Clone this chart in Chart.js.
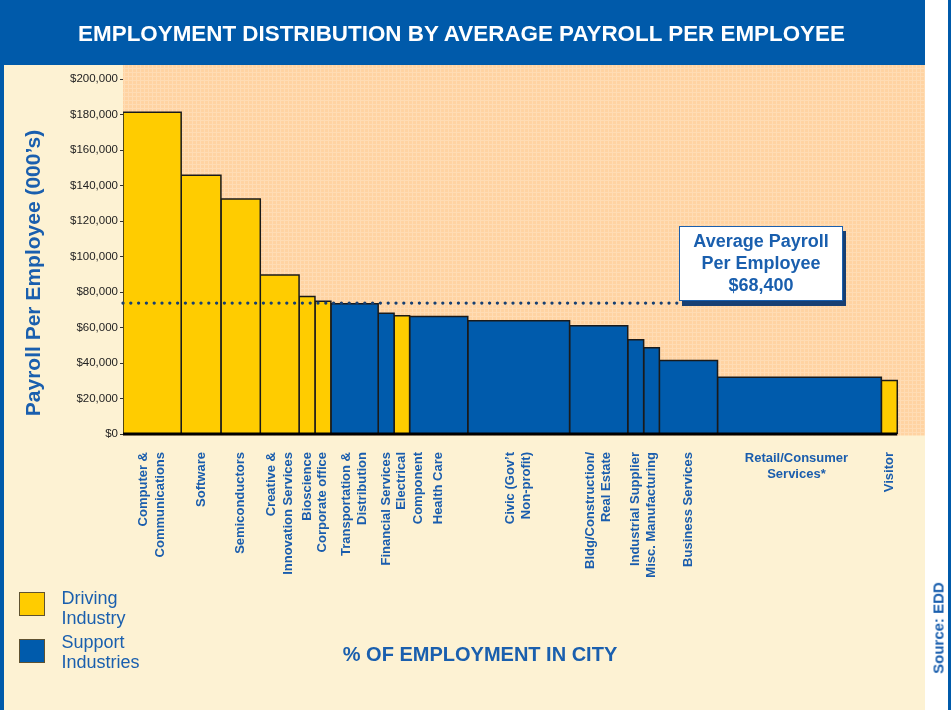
<!DOCTYPE html>
<html>
<head>
<meta charset="utf-8">
<script src="https://cdn.jsdelivr.net/npm/chart.js@4/dist/chart.umd.min.js"></script>
<style>
  html, body { margin:0; padding:0; width:951px; height:710px; overflow:hidden; background:#ffffff; font-family:"Liberation Sans", Arial, sans-serif; }
  .abs { position:absolute; }
  #header { left:0; top:0; width:925px; height:65px; background:#005AAA; }
  #panel { left:4px; top:65px; width:921px; height:645px; background:#FDF2D3; }
  #leftline { left:0; top:0; width:4px; height:710px; background:#005AAA; }
  #rightline { left:948px; top:0; width:3px; height:710px; background:#005AAA; }
  #wrap { left:0; top:0; width:951px; height:710px; }
  #title { left:0; top:21px; width:923px; text-align:center; color:#fff; font-weight:bold; font-size:22.4px; line-height:26px; white-space:nowrap; }
  #ytitle { left:32.7px; top:272.5px; transform:translate(-50%,-50%) rotate(-90deg); color:#1A5FAE; font-weight:bold; font-size:21px; line-height:24px; white-space:nowrap; }
  #xtitle { left:480px; top:642px; transform:translateX(-50%); color:#1A5FAE; font-weight:bold; font-size:20px; line-height:24px; white-space:nowrap; }
  #source { left:937.5px; top:628px; transform:translate(-50%,-50%) rotate(-90deg); color:#1A5FAE; font-weight:bold; font-size:15px; line-height:17px; white-space:nowrap; }
  .lgbox { left:19px; width:26px; height:24px; box-sizing:border-box; border:1.5px solid #5f5230; }
  .lgtext { left:61.5px; color:#1A5FAE; font-size:18px; line-height:20px; white-space:nowrap; }
  #note { left:679px; top:226px; width:164px; height:75px; box-sizing:border-box; border:1px solid #1A5FAE; background:#fff; box-shadow:3px 5px 0 #173F73; text-align:center; color:#1A5FAE; font-weight:bold; font-size:18px; line-height:21.7px; padding-top:4.2px; }
</style>
</head>
<body>
<div id="header" class="abs"></div>
<div id="panel" class="abs"></div>
<div id="leftline" class="abs"></div>
<div id="rightline" class="abs"></div>
<div id="wrap" class="abs"><canvas id="c" width="951" height="710"></canvas></div>
<div id="title" class="abs">EMPLOYMENT DISTRIBUTION BY AVERAGE PAYROLL PER EMPLOYEE</div>
<div id="ytitle" class="abs">Payroll Per Employee (000’s)</div>
<div id="xtitle" class="abs">% OF EMPLOYMENT IN CITY</div>
<div id="source" class="abs">Source: EDD</div>
<div class="abs lgbox" style="top:592px;background:#FFCC00"></div>
<div class="abs lgbox" style="top:639px;background:#005BAC"></div>
<div class="abs lgtext" style="top:588px">Driving<br>Industry</div>
<div class="abs lgtext" style="top:631.5px">Support<br>Industries</div>
<div id="note" class="abs">Average Payroll<br>Per Employee<br>$68,400</div>
<script>
// ---- data ----
const categories = [
  ["Computer &", "Communications"],
  ["Software"],
  ["Semiconductors"],
  ["Creative &", "Innovation Services"],
  ["Bioscience"],
  ["Corporate office"],
  ["Transportation &", "Distribution"],
  ["Financial Services"],
  ["Electrical", "Component"],
  ["Health Care"],
  ["Civic (Gov’t", "Non-profit)"],
  ["Bldg/Construction/", "Real Estate"],
  ["Industrial Supplier"],
  ["Misc. Manufacturing"],
  ["Business Services"],
  ["Retail/Consumer", "Services*"],
  ["Visitor"]
];
// share of employment in city (%) -> bar widths
const employmentShare = [3.0, 2.05, 2.03, 2.0, 0.82, 0.82, 2.44, 0.82, 0.80, 3.0, 5.25, 3.0, 0.82, 0.81, 3.0, 8.45, 0.82];
// average payroll per employee ($) -> bar heights
const payrollPerEmployee = [181400, 145800, 132400, 89600, 77500, 74800, 73400, 68000, 66700, 66200, 63800, 61000, 53100, 48600, 41400, 32000, 30200];
const industryGroup = ["Driving","Driving","Driving","Driving","Driving","Driving","Support","Support","Driving","Support","Support","Support","Support","Support","Support","Support","Driving"];
const yTickValues = [0, 20000, 40000, 60000, 80000, 100000, 120000, 140000, 160000, 180000, 200000];
const averageLineValue = 73800;
const averageLineEndShare = 28.67;
const xAxisMax = 41.36;
const yAxisMax = 208000;

// ---- build datasets ----
const groupColor = { Driving: "#FFCC00", Support: "#005BAC" };
const starts = [];
let acc = 0;
for (let i = 0; i < employmentShare.length; i++) { starts.push(acc); acc += employmentShare[i]; }
const totalShare = acc;

const datasets = [];
for (let i = 0; i < categories.length; i++) {
  const x0 = starts[i], x1 = starts[i] + employmentShare[i], v = payrollPerEmployee[i];
  datasets.push({
    label: categories[i].join(" "),
    data: [{x:x0,y:0},{x:x0,y:v},{x:x1,y:v},{x:x1,y:0}],
    borderColor: "#1a1a1a",
    borderWidth: 1.5,
    backgroundColor: groupColor[industryGroup[i]],
    fill: "origin",
    pointRadius: 0,
    tension: 0,
    order: 2
  });
}
datasets.push({
  label: "average",
  data: [{x:0,y:averageLineValue},{x:averageLineEndShare,y:averageLineValue}],
  borderColor: "#163F72",
  borderWidth: 3.3,
  borderDash: [0, 7.8],
  borderCapStyle: "round",
  fill: false, pointRadius: 0, order: 1, clip: false
});
datasets.push({
  label: "axis",
  data: [{x:0,y:0},{x:totalShare,y:0}],
  borderColor: "#000",
  borderWidth: 3,
  fill: false, pointRadius: 0, order: 0, clip: false
});

// plot background pattern
function makePattern(ctx) {
  const p = document.createElement("canvas");
  p.width = 4; p.height = 4;
  const pc = p.getContext("2d");
  pc.fillStyle = "#FFD3A2"; pc.fillRect(0,0,4,4);
  pc.fillStyle = "#FFDCB4"; pc.fillRect(0,0,1,4); pc.fillRect(0,0,4,1);
  return ctx.createPattern(p, "repeat");
}

const bgPlugin = {
  id: "plotbg",
  beforeDatasetsDraw(chart) {
    const {ctx, chartArea:a} = chart;
    ctx.save();
    ctx.fillStyle = makePattern(ctx);
    ctx.fillRect(a.left, a.top, a.right - a.left, a.bottom - a.top + 1.5);
    ctx.restore();
  }
};

const labelPlugin = {
  id: "catlabels",
  afterDraw(chart) {
    const ctx = chart.ctx, xs = chart.scales.x, a = chart.chartArea;
    ctx.save();
    ctx.fillStyle = "#1A5DAD";
    ctx.font = "bold 13px 'Liberation Sans', Arial, sans-serif";
    const topY = a.bottom + 18;
    const lineGap = 16.5;
    for (let i = 0; i < categories.length; i++) {
      const p0 = xs.getPixelForValue(starts[i]);
      const p1 = xs.getPixelForValue(starts[i] + employmentShare[i]);
      const cx = (p0 + p1) / 2;
      const lines = categories[i];
      const n = lines.length;
      if (p1 - p0 > 120) {
        ctx.textAlign = "center"; ctx.textBaseline = "alphabetic";
        lines.forEach((t, k) => ctx.fillText(t, cx - 3, topY + 10 + k * 16));
      } else {
        ctx.save();
        ctx.translate(cx, topY);
        ctx.rotate(-Math.PI / 2);
        ctx.textAlign = "right"; ctx.textBaseline = "middle";
        // narrow bars: first line on the bar, extra lines to the right
        const firstOffset = (n * lineGap > (p1 - p0)) ? 0 : -(n - 1) / 2 * lineGap;
        lines.forEach((t, k) => ctx.fillText(t, 0, firstOffset + k * lineGap));
        ctx.restore();
      }
    }
    ctx.restore();
  }
};

new Chart(document.getElementById("c"), {
  type: "line",
  data: { datasets },
  options: {
    responsive: false,
    animation: false,
    devicePixelRatio: 1,
    layout: { padding: { left: 0, top: 65, right: 26, bottom: 276 } },
    plugins: { legend: { display: false }, tooltip: { enabled: false } },
    scales: {
      x: { type: "linear", min: 0, max: xAxisMax, display: false },
      y: {
        type: "linear", min: 0, max: yAxisMax,
        afterFit(s) { s.width = 123; },
        afterBuildTicks(s) { s.ticks = yTickValues.map(v => ({ value: v })); },
        grid: { drawOnChartArea: false, tickLength: 3, color: "#333", tickColor: "#333" },
        border: { display: true, color: "#333", width: 1 },
        ticks: {
          padding: 2,
          color: "#222",
          font: { family: "'Liberation Sans', Arial, sans-serif", size: 11.5 },
          callback: v => "$" + Number(v).toLocaleString("en-US")
        }
      }
    }
  },
  plugins: [bgPlugin, labelPlugin]
});
</script>
</body>
</html>
